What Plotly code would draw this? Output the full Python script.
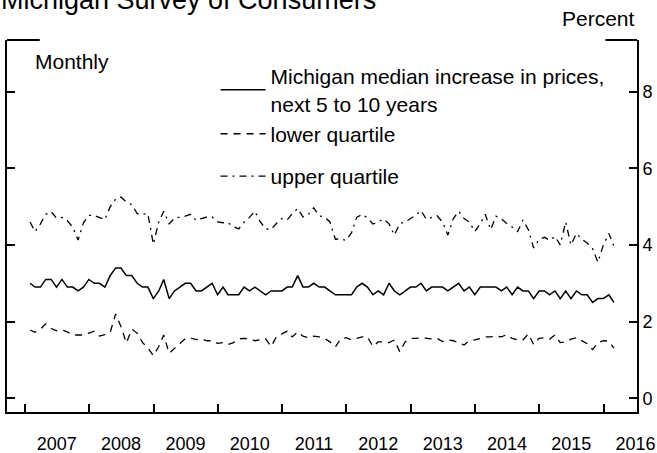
import pandas as pd
import plotly.graph_objects as go

# Monthly observations, Jan 2007 - Feb 2016
months = pd.period_range("2007-01", periods=110, freq="M")
dates = months.to_timestamp(how="end").normalize()

median = [
    3.0, 2.9, 2.9, 3.1, 3.1, 2.9, 3.1, 2.9, 2.9, 2.8, 2.9, 3.1,
    3.0, 3.0, 2.9, 3.2, 3.4, 3.4, 3.2, 3.2, 3.0, 2.9,
    2.9, 2.6, 2.8, 3.1, 2.6, 2.8, 2.9, 3.0, 3.0, 2.8, 2.8, 2.9,
    3.0, 2.7, 2.9, 2.7, 2.7, 2.7, 2.9, 2.8, 2.9, 2.8,
    2.7, 2.8, 2.8, 2.8, 2.9, 2.9, 3.2, 2.9, 2.9, 3.0, 2.9, 2.9,
    2.8, 2.7, 2.7, 2.7, 2.7, 2.9, 3.0, 2.9, 2.7, 2.8, 2.7,
    3.0, 2.8, 2.7, 2.8, 2.9, 2.9, 3.0, 2.8, 2.9, 2.9, 2.9, 2.8,
    2.9, 3.0, 2.8, 2.9, 2.7, 2.9, 2.9, 2.9, 2.9, 2.8,
    2.9, 2.7, 2.9, 2.8, 2.8, 2.6, 2.8, 2.8, 2.7, 2.8, 2.6, 2.8,
    2.6, 2.8, 2.7, 2.7, 2.5, 2.6, 2.6, 2.7, 2.5,
]

upper = [
    4.6, 4.35, 4.55, 4.8, 4.87, 4.7, 4.72, 4.63, 4.47, 4.13, 4.58, 4.77,
    4.77, 4.72, 4.66, 5.0, 5.2, 5.25, 5.12, 5.05, 4.82, 4.8,
    4.82, 4.02, 4.6, 4.88, 4.55, 4.7, 4.72, 4.75, 4.8, 4.64, 4.69, 4.73,
    4.73, 4.6, 4.58, 4.58, 4.48, 4.42, 4.6, 4.72, 4.88, 4.6,
    4.42, 4.4, 4.56, 4.69, 4.66, 4.82, 4.95, 4.73, 4.8, 4.97, 4.76, 4.73,
    4.6, 4.15, 4.16, 4.12, 4.32, 4.72, 4.8, 4.71, 4.55, 4.6, 4.68,
    4.55, 4.26, 4.56, 4.6, 4.69, 4.78, 4.9, 4.67, 4.72, 4.76, 4.6, 4.26,
    4.69, 4.88, 4.69, 4.6, 4.35, 4.56, 4.8, 4.4, 4.75, 4.68,
    4.56, 4.47, 4.35, 4.65, 4.4, 3.92, 4.15, 4.2, 4.12, 4.22, 4.0, 4.6,
    4.0, 4.3, 4.15, 4.05, 3.9, 3.55, 4.0, 4.3, 3.97,
]

lower = [
    1.78, 1.72, 1.8, 1.94, 1.82, 1.76, 1.78, 1.73, 1.65, 1.66, 1.65, 1.7,
    1.75, 1.62, 1.66, 1.72, 2.2, 1.87, 1.44, 1.8, 1.7, 1.45,
    1.32, 1.11, 1.35, 1.65, 1.17, 1.3, 1.43, 1.55, 1.57, 1.53, 1.55, 1.5,
    1.5, 1.43, 1.45, 1.4, 1.45, 1.55, 1.56, 1.55, 1.5, 1.52,
    1.55, 1.35, 1.6, 1.68, 1.75, 1.6, 1.73, 1.62, 1.58, 1.62, 1.6, 1.56,
    1.47, 1.34, 1.55, 1.58, 1.52, 1.56, 1.6, 1.6, 1.35, 1.47, 1.47,
    1.45, 1.52, 1.21, 1.47, 1.56, 1.56, 1.58, 1.56, 1.55, 1.56, 1.48, 1.52,
    1.5, 1.45, 1.39, 1.5, 1.52, 1.56, 1.6, 1.6, 1.62, 1.6,
    1.66, 1.56, 1.52, 1.52, 1.68, 1.4, 1.56, 1.58, 1.54, 1.65, 1.45, 1.47,
    1.54, 1.58, 1.5, 1.42, 1.27, 1.45, 1.5, 1.49, 1.31,
]

y_ticks = [0, 2, 4, 6, 8]
series_names = [
    "Michigan median increase in prices,<br>next 5 to 10 years",
    "lower quartile",
    "upper quartile",
]

FONT = "Liberation Sans, Arial, Helvetica, sans-serif"

fig = go.Figure()
fig.add_trace(go.Scatter(x=dates, y=median, mode="lines", name=series_names[0],
                         legendgroup="a",
                         line=dict(color="black", width=1.5)))
fig.add_trace(go.Scatter(x=dates, y=lower, mode="lines", name=series_names[1],
                         legendgroup="a",
                         line=dict(color="black", width=1.3, dash="7px,6px")))
fig.add_trace(go.Scatter(x=dates, y=upper, mode="lines", name=series_names[2],
                         legendgroup="b",
                         line=dict(color="black", width=1.3, dash="7px,5px,2px,5px")))

fig.update_layout(
    width=657, height=453,
    margin=dict(l=7, r=20, t=40, b=41, pad=0, autoexpand=False),
    paper_bgcolor="white", plot_bgcolor="white",
    font=dict(family=FONT, size=18, color="black"),
    showlegend=True,
    legend=dict(x=0.331, y=0.957, xanchor="left", yanchor="top",
                font=dict(size=21, family=FONT, color="black"),
                bgcolor="rgba(0,0,0,0)", itemwidth=45, tracegroupgap=12,
                traceorder="grouped"),
    xaxis=dict(type="date", range=["2006-09-22", "2016-07-09"],
               tickmode="linear", tick0="2007-01-01", dtick="M12",
               tickformat="%Y", ticks="inside", ticklen=8, tickwidth=2,
               tickcolor="black", ticklabelshift=32, ticklabelstandoff=14,
               showline=True, linewidth=2, linecolor="black", mirror=False,
               showgrid=False, zeroline=False, automargin=False,
               tickfont=dict(size=18, family=FONT, color="black")),
    yaxis=dict(range=[-0.36, 9.35], side="right", tickmode="array",
               tickvals=y_ticks, ticktext=[str(v) for v in y_ticks],
               ticks="inside", ticklen=8, tickwidth=2, tickcolor="black",
               showline=True, linewidth=2, linecolor="black", mirror="ticks",
               showgrid=False, zeroline=False, automargin=False,
               tickfont=dict(size=18, family=FONT, color="black")),
    annotations=[
        dict(text="Michigan Survey of Consumers", xref="paper", yref="paper",
             x=-0.012, y=1.062, xanchor="left", yanchor="bottom", showarrow=False,
             font=dict(size=27, family=FONT, color="black")),
        dict(text="Percent", xref="paper", yref="paper", x=1.0, y=1.059,
             xanchor="right", yanchor="middle", showarrow=False,
             font=dict(size=21, family=FONT, color="black")),
        dict(text="Monthly", xref="paper", yref="paper", x=0.042, y=0.941,
             xanchor="left", yanchor="middle", showarrow=False,
             font=dict(size=21, family=FONT, color="black")),
    ],
    shapes=[
        dict(type="line", xref="paper", yref="paper", x0=0, x1=0.052, y0=1, y1=1,
             line=dict(color="black", width=2)),
        dict(type="line", xref="paper", yref="paper", x0=0.95, x1=1, y0=1, y1=1,
             line=dict(color="black", width=2)),
    ],
)

fig.write_html("out.html",
               config={"displayModeBar": False},
               post_script="document.body.style.margin='0';document.body.style.padding='0';")
